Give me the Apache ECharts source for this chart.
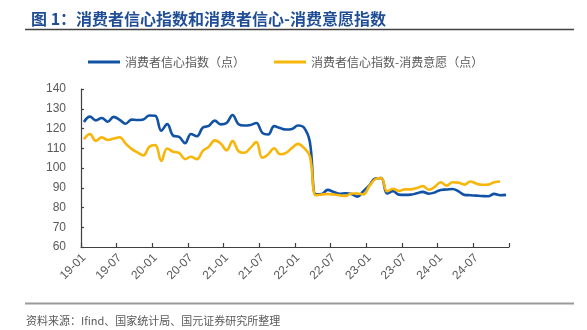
<!DOCTYPE html>
<html>
<head>
<meta charset="utf-8">
<script src="https://cdn.jsdelivr.net/npm/echarts@6/dist/echarts.min.js"></script>
<style>
html,body{margin:0;padding:0;background:#fff;}
#c{width:587px;height:330px;}
</style>
</head>
<body>
<div id="c"></div>
<script>
var categories = [
  '19-01','19-02','19-03','19-04','19-05','19-06','19-07','19-08','19-09','19-10','19-11','19-12',
  '20-01','20-02','20-03','20-04','20-05','20-06','20-07','20-08','20-09','20-10','20-11','20-12',
  '21-01','21-02','21-03','21-04','21-05','21-06','21-07','21-08','21-09','21-10','21-11','21-12',
  '22-01','22-02','22-03','22-04','22-05','22-06','22-07','22-08','22-09','22-10','22-11','22-12',
  '23-01','23-02','23-03','23-04','23-05','23-06','23-07','23-08','23-09','23-10','23-11','23-12',
  '24-01','24-02','24-03','24-04','24-05','24-06','24-07','24-08','24-09','24-10','24-11','24-12'
];
var confidenceIndex = [
  123.3,126.0,124.1,125.3,123.4,125.9,124.4,122.4,124.5,124.3,124.6,126.6,
  126.4,118.9,122.2,116.4,115.8,112.6,117.2,116.1,120.5,121.3,124.0,122.1,
  122.8,126.8,122.2,121.5,121.8,122.8,117.8,117.0,121.2,120.2,119.5,119.8,
  121.5,120.5,113.2,86.7,86.8,88.9,87.9,87.0,87.2,86.8,85.5,88.3,
  91.2,94.7,94.9,87.1,88.2,86.5,86.4,86.5,87.2,87.9,87.0,87.6,
  88.9,89.1,89.4,88.2,86.4,86.2,86.0,85.8,85.7,86.9,86.2,86.4
];
var willingnessIndex = [
  114.5,117.2,113.8,115.5,114.2,114.9,115.6,112.4,109.7,107.9,106.4,110.8,
  111.6,103.6,109.9,108.2,107.7,104.5,105.7,104.5,108.7,110.7,114.0,112.4,
  109.0,113.6,108.5,107.7,110.2,113.1,105.2,107.0,110.0,107.0,107.7,110.2,
  112.2,110.2,106.0,86.2,86.6,86.8,86.6,86.2,85.8,87.1,87.1,86.6,
  90.8,94.3,94.9,88.2,89.5,88.4,89.2,89.2,89.9,90.8,89.0,90.4,
  92.8,91.1,92.8,92.6,91.6,93.2,92.1,91.5,91.6,92.8,93.2,null
];
var seriesNames = ['消费者信心指数（点）','消费者信心指数-消费意愿（点）'];
var yTicks = {min:60, max:140, interval:10};

var cjk = '"Noto Sans CJK SC", "Noto Sans", sans-serif';
var latin = '"Liberation Sans", Arial, sans-serif';

var chart = echarts.init(document.getElementById('c'), null, {renderer:'canvas'});
chart.setOption({
  backgroundColor:'#ffffff',
  animation:false,
  title:{
    text:'图 1：消费者信心指数和消费者信心-消费意愿指数',
    left:26, top:6,
    textStyle:{fontSize:16, fontWeight:'bold', color:'#1f4e96', fontFamily:cjk}
  },
  legend:{
    left:83, top:51,
    itemWidth:32, itemHeight:3, itemGap:29,
    icon:'rect',
    textStyle:{fontSize:12, color:'#595959', fontFamily:cjk},
    data:seriesNames
  },
  grid:{left:81, right:78, top:89, bottom:83, containLabel:false},
  xAxis:{
    type:'category',
    data:categories,
    boundaryGap:true,
    axisLine:{show:true, lineStyle:{color:'#404040', width:1.2}},
    axisTick:{show:true, inside:true, length:4, interval:5, lineStyle:{color:'#404040', width:1.2}},
    axisLabel:{interval:5, rotate:45, fontSize:12, color:'#595959', fontFamily:latin, margin:9},
    splitLine:{show:false}
  },
  yAxis:{
    type:'value',
    min:yTicks.min, max:yTicks.max, interval:yTicks.interval,
    axisLine:{show:true, lineStyle:{color:'#404040', width:1.2}},
    axisTick:{show:true, inside:true, length:3, lineStyle:{color:'#404040', width:1.2}},
    axisLabel:{fontSize:12, color:'#595959', fontFamily:latin, margin:15},
    splitLine:{show:false}
  },
  series:[
    {
      name:seriesNames[0], type:'line', data:confidenceIndex,
      showSymbol:false, smooth:0.4,
      lineStyle:{color:'#1152a4', width:2.6},
      itemStyle:{color:'#1152a4'}
    },
    {
      name:seriesNames[1], type:'line', data:willingnessIndex,
      showSymbol:false, smooth:0.4,
      lineStyle:{color:'#f8b50a', width:2.6},
      itemStyle:{color:'#f8b50a'}
    }
  ],
  graphic:[
    {type:'line', shape:{x1:25, y1:29.5, x2:574, y2:29.5}, style:{stroke:'#404040', lineWidth:1.5}},
    {type:'line', shape:{x1:25, y1:303.5, x2:574, y2:303.5}, style:{stroke:'#9a9a9a', lineWidth:2}},
    {type:'text', left:26, top:315, style:{text:'资料来源：Ifind、国家统计局、国元证券研究所整理', fontSize:11, fill:'#595959', fontFamily:cjk}}
  ]
});
</script>
</body>
</html>
